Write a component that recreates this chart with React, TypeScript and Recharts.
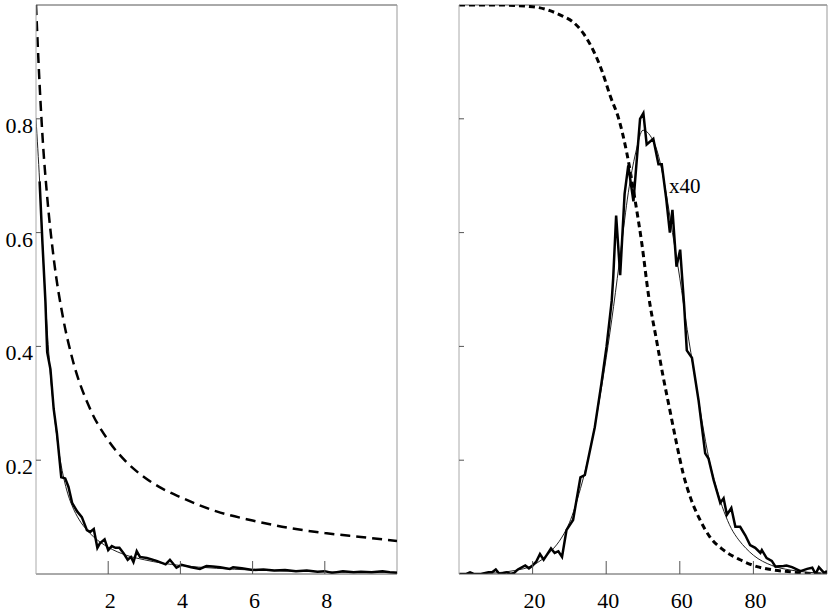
import React from 'react';
import { LineChart, Line, XAxis, YAxis, ReferenceLine } from 'recharts';

// ---------- Left panel data ----------
const leftXTicks = [2, 4, 6, 8];
const leftYTicks = [0.2, 0.4, 0.6, 0.8];

const leftDashedX = [0, 0.1, 0.2, 0.3, 0.5, 0.75, 1, 1.5, 2, 2.5, 3, 3.5, 4, 5, 6, 7, 8, 9, 10];
const leftDashedY = [1.0, 0.86, 0.75, 0.67, 0.55, 0.45, 0.38, 0.29, 0.235, 0.197, 0.17, 0.15, 0.135, 0.11, 0.094, 0.081, 0.072, 0.065, 0.058];

const leftFitX = [0, 0.1, 0.2, 0.3, 0.4, 0.5, 0.6, 0.7, 0.8, 0.9, 1.0, 1.2, 1.4, 1.6, 1.8, 2.0, 2.5, 3, 3.5, 4, 5, 6, 7, 8, 9, 10];
const leftFitY = [0.8, 0.69, 0.555, 0.44, 0.35, 0.285, 0.23, 0.19, 0.16, 0.137, 0.12, 0.095, 0.078, 0.065, 0.055, 0.047, 0.033, 0.025, 0.019, 0.015, 0.01, 0.007, 0.005, 0.004, 0.003, 0.003];

const leftObsX = [0.1, 0.18, 0.26, 0.31, 0.4, 0.49, 0.58, 0.7, 0.81, 0.9, 1.0, 1.14, 1.27, 1.41, 1.5, 1.6, 1.7, 1.77, 1.9, 2.0, 2.1, 2.2, 2.31, 2.42, 2.54, 2.63, 2.7, 2.79, 2.88, 3.07, 3.34, 3.59, 3.71, 3.89, 4.03, 4.3, 4.54, 4.72, 4.9, 5.1, 5.37, 5.46, 5.7, 6.0, 6.3, 6.6, 6.9, 7.2, 7.5, 7.8, 8.0, 8.2, 8.5, 8.8, 9.0, 9.3, 9.6, 9.8, 10];
const leftObsY = [0.69, 0.58, 0.48, 0.39, 0.36, 0.29, 0.247, 0.17, 0.168, 0.153, 0.125, 0.11, 0.1, 0.077, 0.074, 0.079, 0.046, 0.054, 0.061, 0.042, 0.049, 0.046, 0.046, 0.037, 0.025, 0.03, 0.021, 0.04, 0.03, 0.028, 0.023, 0.017, 0.025, 0.011, 0.016, 0.012, 0.009, 0.014, 0.013, 0.012, 0.009, 0.012, 0.01, 0.007, 0.008, 0.006, 0.007, 0.005, 0.006, 0.004, 0.005, 0.002, 0.005, 0.003, 0.004, 0.003, 0.005, 0.003, 0.002];

// ---------- Right panel data ----------
const rightXTicks = [20, 40, 60, 80];
const rightYTicks = [0.2, 0.4, 0.6, 0.8];

const rightDashedX = [0, 10, 20, 24.7, 28.3, 31, 33.8, 36.5, 38.8, 41.1, 43.4, 45.6, 47.9, 49.7, 51.5, 53.7, 55.5, 57.3, 59.1, 60.9, 62.8, 65.5, 68.2, 71.9, 76.4, 81, 85.5, 90, 94.6, 100];
const rightDashedY = [1, 1, 0.997, 0.99, 0.98, 0.97, 0.95, 0.92, 0.885, 0.84, 0.8, 0.74, 0.655, 0.58, 0.49, 0.41, 0.346, 0.288, 0.23, 0.177, 0.136, 0.095, 0.065, 0.042, 0.025, 0.013, 0.007, 0.004, 0.001, 0];

const rightFitX = [0, 10, 15, 20, 25, 28, 30, 33, 35, 38, 40, 42, 44, 46, 48, 50, 52, 54, 56, 58, 60, 62, 64, 66, 68, 70, 72, 74, 76, 78, 80, 85, 90, 95, 100];
const rightFitY = [0, 0.002, 0.006, 0.015, 0.04, 0.065, 0.09, 0.15, 0.2, 0.3, 0.38, 0.47, 0.57, 0.67, 0.74, 0.78, 0.77, 0.74, 0.68, 0.6, 0.52, 0.43, 0.35, 0.27, 0.2, 0.15, 0.11, 0.08, 0.06, 0.045, 0.033, 0.015, 0.007, 0.003, 0.001];

const rightObsX = [0, 2, 3, 4, 6, 8, 9, 10, 11, 13, 14, 15, 16, 18, 19, 20, 21, 22, 23, 24, 25, 26, 27, 28, 29.2, 31, 33, 34.2, 36.9, 38.7, 40.1, 41.5, 41.9, 42.7, 43.8, 45, 46, 47.4, 49.2, 50.1, 51, 52.8, 54.2, 55.1, 56.3, 57.3, 58, 59.1, 60.1, 61.2, 61.9, 63.3, 65.1, 66.9, 67.8, 69.2, 71, 71.9, 72.8, 74, 75.1, 76.4, 77.8, 79.1, 80.5, 81.9, 82.3, 83.6, 85, 86, 88.2, 89, 90.5, 92.8, 94.6, 96, 96.9, 97.8, 99.2, 100];
const rightObsY = [0, 0, 0.003, 0, 0, 0.003, 0.003, 0.008, 0, 0.003, 0, 0.002, 0.008, 0.015, 0.01, 0.015, 0.022, 0.035, 0.025, 0.035, 0.045, 0.037, 0.04, 0.03, 0.077, 0.095, 0.17, 0.174, 0.258, 0.335, 0.4, 0.48, 0.52, 0.63, 0.525, 0.668, 0.718, 0.655, 0.8, 0.81, 0.755, 0.765, 0.72, 0.72, 0.66, 0.6, 0.64, 0.54, 0.57, 0.47, 0.393, 0.38, 0.305, 0.212, 0.203, 0.165, 0.125, 0.133, 0.104, 0.116, 0.083, 0.083, 0.068, 0.051, 0.046, 0.037, 0.042, 0.028, 0.023, 0.013, 0.014, 0.015, 0.012, 0.005, 0.009, 0.011, 0, 0.012, 0.002, 0.005];

const annotation = 'x40';

const zip = (xs: number[], ys: number[]) => xs.map((x, i) => ({ x, y: ys[i] }));

const FONT = '"Liberation Serif", "Times New Roman", serif';

const makeXTick = (showLabel: boolean) => (props: any) => {
  const { x, y, payload } = props;
  return (
    <g>
      <line x1={x} x2={x} y1={y} y2={y - 13} stroke="#555" strokeWidth={1} />
      {showLabel && (
        <text x={x + 2} y={y + 34} textAnchor="middle" fontSize={22} fontFamily={FONT} fill="#000">
          {String(payload.value)}
        </text>
      )}
    </g>
  );
};

const makeYTick = (showLabel: boolean) => (props: any) => {
  const { x, y, payload } = props;
  return (
    <g>
      <line x1={x} x2={x + 5} y1={y} y2={y} stroke="#555" strokeWidth={1} />
      {showLabel && (
        <text x={x - 3} y={y + 14} textAnchor="end" fontSize={22} fontFamily={FONT} fill="#000">
          {String(payload.value)}
        </text>
      )}
    </g>
  );
};

export default function App() {
  return (
    <div style={{ position: 'absolute', left: 0, top: 0, width: 830, height: 612, background: '#fff' }}>
      <div style={{ position: 'absolute', left: 0, top: 0 }}>
        <LineChart width={400} height={612} margin={{ top: 5, right: 3, bottom: 0, left: 0 }}>
          <XAxis
            type="number"
            dataKey="x"
            domain={[0, 10]}
            ticks={leftXTicks}
            interval={0}
            allowDataOverflow
            height={38}
            tickSize={0}
            tickMargin={0}
            tickLine={false}
            axisLine={{ stroke: '#555' }}
            tick={makeXTick(true)}
          />
          <YAxis
            type="number"
            dataKey="y"
            domain={[0, 1]}
            ticks={leftYTicks}
            interval={0}
            allowDataOverflow
            width={36}
            tickSize={0}
            tickMargin={0}
            tickLine={false}
            axisLine={{ stroke: '#aaa' }}
            tick={makeYTick(true)}
          />
          <ReferenceLine y={1} stroke="#555" strokeWidth={1} />
          <ReferenceLine x={10} stroke="#999" strokeWidth={1} />
          <Line data={zip(leftDashedX, leftDashedY)} dataKey="y" type="monotone" stroke="#000" strokeWidth={2.5} strokeDasharray="10 6" dot={false} isAnimationActive={false} />
          <Line data={zip(leftFitX, leftFitY)} dataKey="y" type="monotone" stroke="#222" strokeWidth={1} dot={false} isAnimationActive={false} />
          <Line data={zip(leftObsX, leftObsY)} dataKey="y" type="linear" stroke="#000" strokeWidth={2.5} dot={false} isAnimationActive={false} />
        </LineChart>
      </div>
      <div style={{ position: 'absolute', left: 400, top: 0 }}>
        <LineChart width={430} height={612} margin={{ top: 5, right: 3, bottom: 0, left: 0 }}>
          <XAxis
            type="number"
            dataKey="x"
            domain={[0, 100]}
            ticks={rightXTicks}
            interval={0}
            allowDataOverflow
            height={38}
            tickSize={0}
            tickMargin={0}
            tickLine={false}
            axisLine={{ stroke: '#555' }}
            tick={makeXTick(true)}
          />
          <YAxis
            type="number"
            dataKey="y"
            domain={[0, 1]}
            ticks={rightYTicks}
            interval={0}
            allowDataOverflow
            width={59}
            tickSize={0}
            tickMargin={0}
            tickLine={false}
            axisLine={{ stroke: '#aaa' }}
            tick={makeYTick(false)}
          />
          <ReferenceLine y={1} stroke="#555" strokeWidth={1} />
          <ReferenceLine x={100} stroke="#999" strokeWidth={1} />
          <Line data={zip(rightDashedX, rightDashedY)} dataKey="y" type="monotone" stroke="#000" strokeWidth={3} strokeDasharray="6 4" dot={false} isAnimationActive={false} />
          <Line data={zip(rightFitX, rightFitY)} dataKey="y" type="monotone" stroke="#222" strokeWidth={1} dot={false} isAnimationActive={false} />
          <Line data={zip(rightObsX, rightObsY)} dataKey="y" type="linear" stroke="#000" strokeWidth={2.5} dot={false} isAnimationActive={false} />
        </LineChart>
      </div>
      <div style={{ position: 'absolute', left: 669, top: 174, fontFamily: FONT, fontSize: 21, color: '#000', lineHeight: '24px' }}>
        {annotation}
      </div>
    </div>
  );
}
